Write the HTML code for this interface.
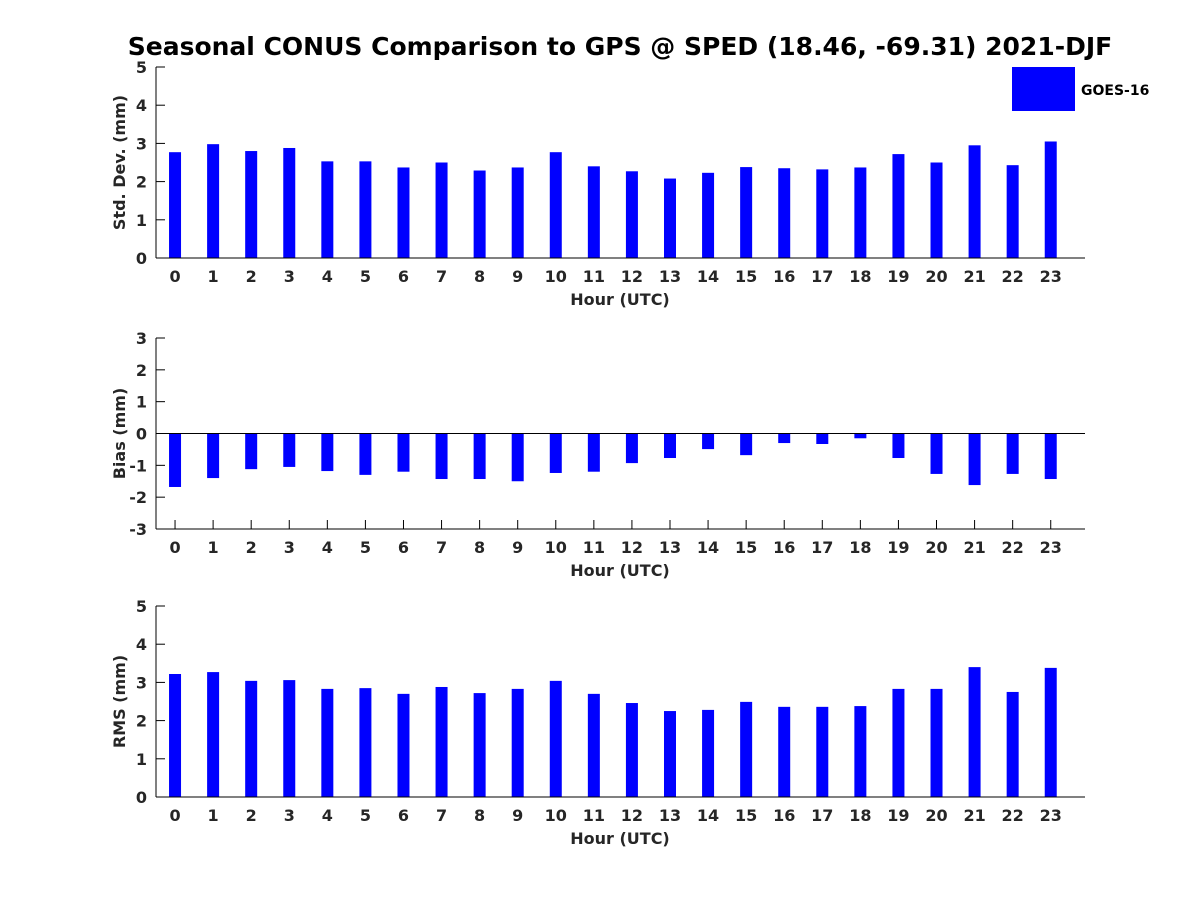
<!DOCTYPE html>
<html><head><meta charset="utf-8"><style>
body{margin:0;background:#fff}
svg{display:block;font-family:"DejaVu Sans","Liberation Sans",sans-serif;font-weight:bold}
</style></head><body>
<svg id="c" width="1200" height="900">
<text x="620" y="55" text-anchor="middle" font-size="25" fill="#000">Seasonal CONUS Comparison to GPS @ SPED (18.46, -69.31) 2021-DJF</text>
</svg>
<script>
const hours=[0,1,2,3,4,5,6,7,8,9,10,11,12,13,14,15,16,17,18,19,20,21,22,23];
const stdVals=[2.77,2.98,2.8,2.88,2.53,2.53,2.37,2.5,2.29,2.37,2.77,2.4,2.27,2.08,2.23,2.38,2.35,2.32,2.37,2.72,2.5,2.95,2.43,3.05];
const biasVals=[-1.68,-1.4,-1.12,-1.05,-1.18,-1.3,-1.2,-1.43,-1.43,-1.5,-1.24,-1.2,-0.93,-0.77,-0.49,-0.68,-0.3,-0.33,-0.15,-0.77,-1.27,-1.62,-1.27,-1.43];
const rmsVals=[3.22,3.27,3.04,3.06,2.83,2.85,2.7,2.88,2.72,2.83,3.04,2.7,2.46,2.25,2.28,2.49,2.36,2.36,2.38,2.83,2.83,3.4,2.75,3.38];
const stdTicks=[0,1,2,3,4,5];
const biasTicks=[-3,-2,-1,0,1,2,3];
const rmsTicks=[0,1,2,3,4,5];
const svg=document.getElementById('c');
const NS='http://www.w3.org/2000/svg';
function mk(t,a,p){const e=document.createElementNS(NS,t);for(const k in a)e.setAttribute(k,a[k]);(p||svg).appendChild(e);return e;}
const X0=156,X1=1085,xmin=-0.5,xmax=23.9;
const xs=v=>X0+(v-xmin)/(xmax-xmin)*(X1-X0);
function panel(name,vals,ticks,top,bot,ymin,ymax,ylabel,zero){
  const g=mk('g',{});
  
  
  const ys=v=>bot-(v-ymin)/(ymax-ymin)*(bot-top);
  hours.forEach(h=>{
    const x=xs(h);
    mk('line',{x1:x,x2:x,y1:bot,y2:bot-9,stroke:'#000'},g);
  });
  vals.forEach((v,i)=>{
    const y0=ys(0),y1=ys(v);
    const r=mk('rect',{x:xs(hours[i])-6,y:Math.min(y0,y1),width:12,height:Math.abs(y1-y0),fill:'#0000ff'},g);
    
    
  });
  if(zero){mk('line',{x1:X0,x2:X1,y1:ys(0),y2:ys(0),stroke:'#000','stroke-width':1},g);}
  mk('line',{x1:X0,x2:X0,y1:top,y2:bot,stroke:'#000','stroke-width':1},g);
  mk('line',{x1:X0,x2:X1,y1:bot,y2:bot,stroke:'#000','stroke-width':1},g);
  ticks.forEach(t=>{
    const y=ys(t);
    mk('line',{x1:X0,x2:X0+9,y1:y,y2:y,stroke:'#000'},g);
    const tx=mk('text',{x:X0-9,y:y+6,'text-anchor':'end','font-size':16,fill:'#262626'},g);
    tx.textContent=t;
    
    
  });
  hours.forEach(h=>{
    const x=xs(h);
    const tx=mk('text',{x:x,y:bot+24,'text-anchor':'middle','font-size':16,fill:'#262626'},g);
    tx.textContent=h;
    
    
  });
  const xl=mk('text',{x:620,y:bot+47,'text-anchor':'middle','font-size':16,fill:'#262626'},g);
  xl.textContent='Hour (UTC)';
  
  
  const cy=(top+bot)/2;
  const yl=mk('text',{x:0,y:0,'text-anchor':'middle','font-size':16,fill:'#262626',transform:`translate(125,${cy}) rotate(-90)`},g);
  yl.textContent=ylabel;
  
  
}
panel('std-dev',stdVals,stdTicks,67,258,0,5,'Std. Dev. (mm)',false);
panel('bias',biasVals,biasTicks,338,529,-3,3,'Bias (mm)',true);
panel('rms',rmsVals,rmsTicks,606,797,0,5,'RMS (mm)',false);
const lg=mk('g',{});


mk('rect',{x:1012,y:67,width:63,height:44,fill:'#0000ff'},lg);
const lt=mk('text',{x:1081,y:95,'font-size':14,fill:'#000'},lg);
lt.textContent='GOES-16';


</script>
</body></html>
